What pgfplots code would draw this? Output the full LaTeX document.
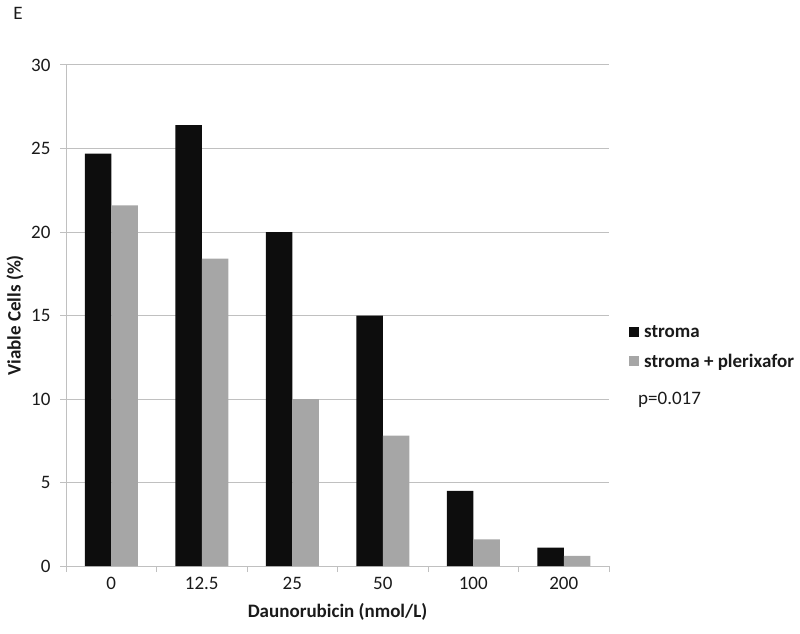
\documentclass[border=0pt]{standalone}
\usepackage{fontspec}
\setmainfont{Carlito}
\usepackage{pgfplots}
\pgfplotsset{compat=1.18}
\definecolor{barblack}{HTML}{0D0D0D}
\definecolor{bargray}{HTML}{A6A6A6}
\definecolor{gridgray}{HTML}{C0C0C0}
\definecolor{txt}{HTML}{1A1A1A}

\begin{document}
\begin{tikzpicture}[font=\fontsize{19}{22}\selectfont]
\path[use as bounding box] (0,0) rectangle (800pt,633pt);
\begin{axis}[
  at={(66pt,67pt)}, anchor=south west,
  width=543pt, height=501pt, scale only axis,
  /pgf/number format/assume math mode=true,
  ybar=0pt, bar width=26.5pt,
  ymin=0, ymax=30, ytick={0,5,...,30},
  xmin=-0.5, xmax=5.5,
  xtick={0,...,5}, xticklabels={0,12.5,25,50,100,200},
  minor xtick={-0.5,0.5,...,5.5},
  axis x line=bottom, axis y line=left,
  axis line style={-, draw=gridgray, line width=1pt},
  ymajorgrids, grid style={gridgray, line width=1pt},
  tick align=outside,
  major tick length=6pt, minor tick length=6pt,
  major x tick style={draw=none},
  minor x tick style={gridgray, line width=1pt},
  ytick style={gridgray, line width=1pt},
  ticklabel style={text=txt, font=\fontsize{19}{22}\selectfont},
  yticklabel style={xshift=-6pt},
  xticklabel style={yshift=-2pt},
  xlabel={\bfseries Daunorubicin (nmol/L)},
  ylabel={\bfseries Viable Cells (\%)},
  xlabel style={at={(axis description cs:0.5,-0.092)}, anchor=center, text=txt},
  ylabel style={at={(axis description cs:-0.094,0.5)}, anchor=center, text=txt},
  legend style={at={(axis description cs:1.0368,0.485)}, anchor=north west,
    draw=none, fill=none, inner sep=0pt, row sep=11pt,
    font=\fontsize{19}{22}\selectfont\bfseries, text=txt, cells={anchor=west}},
  sq/.style={legend image code/.code={
    \fill[##1] (0pt,-5pt) rectangle (10pt,5pt);
    \path (13pt,0pt);}},
  clip=false,
]
\addplot[fill=barblack, draw=none, sq] coordinates {
  (0,24.7) (1,26.4) (2,20.0) (3,15.0) (4,4.5) (5,1.1)
};
\addlegendentry{stroma}
\addplot[fill=bargray, draw=none, sq] coordinates {
  (0,21.6) (1,18.4) (2,10.0) (3,7.8) (4,1.6) (5,0.6)
};
\addlegendentry{stroma + plerixafor}
\end{axis}
\node[anchor=center, text=txt] at (18pt,619.5pt) {E};
\node[anchor=west, inner sep=0pt, text=txt] at (638pt,233pt) {p=0.017};
\end{tikzpicture}
\end{document}
